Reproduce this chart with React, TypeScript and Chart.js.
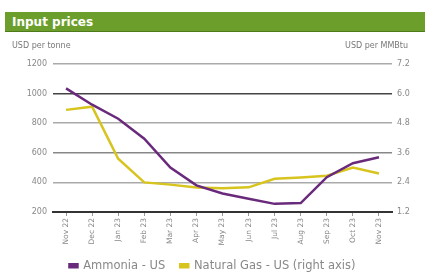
import React, { useEffect, useRef } from "react";
import { Chart, registerables } from "chart.js";

Chart.register(...registerables);

const categories = ["Nov 22", "Dec 22", "Jan 23", "Feb 23", "Mar 23", "Apr 23", "May 23", "Jun 23", "Jul 23", "Aug 23", "Sep 23", "Oct 23", "Nov 23"];
const ammoniaUS = [1035, 925, 830, 695, 500, 380, 325, 290, 255, 260, 435, 530, 570];
const naturalGasUS = [5.34, 5.47, 3.36, 2.4, 2.31, 2.19, 2.16, 2.2, 2.55, 2.6, 2.67, 3.0, 2.76];
const leftTicks = [200, 400, 600, 800, 1000, 1200];
const rightTicks = [1.2, 2.4, 3.6, 4.8, 6.0, 7.2];

const FONT = "'DejaVu Sans', Verdana, sans-serif";

const captionPlugin = {
  id: "captions",
  afterInit(chart: any) {
    const lg = chart.legend;
    if (lg) {
      const orig = lg.fit.bind(lg);
      lg.fit = function () {
        orig();
        this.height = 29;
      };
    }
  },
  afterDraw(chart: any) {
    const { ctx } = chart;
    ctx.save();
    ctx.font = `8px ${FONT}`;
    ctx.fillStyle = "#777";
    ctx.textBaseline = "middle";
    ctx.textAlign = "left";
    ctx.fillText("USD per tonne", 12, 46);
    ctx.textAlign = "right";
    ctx.fillText("USD per MMBtu", 408, 46);
    ctx.restore();
  },
};

export default function App() {
  const ref = useRef<HTMLCanvasElement>(null);
  useEffect(() => {
    document.body.style.margin = "0";
    const chart = new Chart(ref.current!, {
      type: "line",
      data: {
        labels: categories,
        datasets: [
          {
            label: "Ammonia - US",
            data: ammoniaUS,
            borderColor: "#6a2a7c",
            backgroundColor: "#6a2a7c",
            borderWidth: 2.5,
            pointRadius: 0,
            tension: 0,
            yAxisID: "y",
          },
          {
            label: "Natural Gas - US (right axis)",
            data: naturalGasUS,
            borderColor: "#d8c41e",
            backgroundColor: "#d8c41e",
            borderWidth: 2.5,
            pointRadius: 0,
            tension: 0,
            yAxisID: "y1",
          },
        ],
      },
      options: {
        animation: false,
        responsive: false,
        layout: { padding: { top: 64, left: 0, right: 0, bottom: 0 } },
        plugins: {
          legend: {
            position: "bottom",
            labels: {
              font: { family: FONT, size: 11.5 },
              color: "#888",
              boxWidth: 8,
              boxHeight: 3,
              padding: 15,
            },
          },
          tooltip: { enabled: false },
        },
        scales: {
          x: {
            offset: true,
            border: { color: "#333", width: 2 },
            grid: { drawOnChartArea: false, drawTicks: true, tickLength: 4, color: "#999" },
            ticks: {
              font: { family: FONT, size: 7.5 },
              color: "#888",
              maxRotation: 90,
              minRotation: 90,
              autoSkip: false,
              padding: 2,
            },
            afterFit(scale: any) { scale.height = 33; },
          },
          y: {
            position: "left",
            min: 200,
            max: 1200,
            afterBuildTicks(scale: any) { scale.ticks = leftTicks.map((v) => ({ value: v })); },
            border: { display: false },
            grid: {
              drawTicks: false,
              lineWidth: 1.5,
              color: (c: any) => {
                const v = c.tick && c.tick.value;
                if (v === 1000) return "#444";
                if (v === 200) return "#333";
                if (v === 600) return "#888";
                return "#aaa";
              },
            },
            ticks: {
              font: { family: FONT, size: 8 },
              color: "#888",
              padding: 6,
              callback: (v: any) => String(v),
            },
            afterFit(scale: any) { scale.width = 53; },
          },
          y1: {
            position: "right",
            min: 1.2,
            max: 7.2,
            afterBuildTicks(scale: any) { scale.ticks = rightTicks.map((v) => ({ value: v })); },
            border: { display: false },
            grid: { drawOnChartArea: false, drawTicks: false },
            ticks: {
              font: { family: FONT, size: 8 },
              color: "#888",
              padding: 5,
              callback: (v: any) => Number(v).toFixed(1),
            },
            afterFit(scale: any) { scale.width = 33; },
          },
        },
      },
      plugins: [captionPlugin],
    });
    return () => chart.destroy();
  }, []);

  return (
    <div style={{ position: "relative", width: 425, height: 274, background: "#fff" }}>
      <canvas ref={ref} width={425} height={274} style={{ position: "absolute", left: 0, top: 0 }} />
      <div
        style={{
          position: "absolute",
          left: 5,
          right: 0,
          top: 12,
          height: 20,
          background: "#6c9e2c",
          borderBottom: "1px solid #4f7a1c",
          color: "#fff",
          fontFamily: FONT,
          fontWeight: "bold",
          fontSize: 12,
          lineHeight: "20px",
          paddingLeft: 7,
          boxSizing: "border-box",
        }}
      >
        Input prices
      </div>
    </div>
  );
}
